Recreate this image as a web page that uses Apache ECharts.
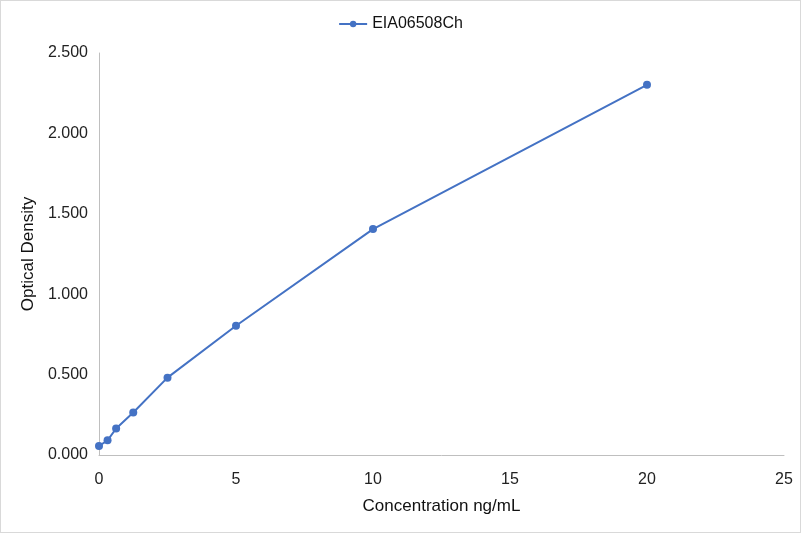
<!DOCTYPE html>
<html><head><meta charset="utf-8">
<script src="https://cdn.jsdelivr.net/npm/echarts@6/dist/echarts.min.js"></script>
<style>html,body{margin:0;padding:0;background:#fff}#c{width:801px;height:533px;box-sizing:border-box;border:1px solid #d9d9d9}</style>
</head><body><div id="c"></div>
<script>
const seriesName = 'EIA06508Ch';
const concentrations = [0, 0.3125, 0.625, 1.25, 2.5, 5, 10, 20];
const odValues = [0.056, 0.091, 0.165, 0.264, 0.481, 0.804, 1.405, 2.302];
const xTitle = 'Concentration ng/mL';
const yTitle = 'Optical Density';

const chart = echarts.init(document.getElementById('c'));
const font = 'Liberation Sans, Arial, sans-serif';
chart.setOption({
  animation: false,
  legend: {top: 10, left: 'center', itemWidth: 28, itemHeight: 8, itemGap: 10,
    textStyle: {fontFamily: font, fontSize: 16, color: '#111'}, data: [seriesName]},
  grid: {left: 98, right: 16, top: 52, bottom: 77},
  xAxis: {type: 'value', min: 0, max: 25, interval: 5,
    name: xTitle, nameLocation: 'middle', nameGap: 43,
    nameTextStyle: {fontFamily: font, fontSize: 17, color: '#111'},
    axisLine: {lineStyle: {color: '#bfbfbf'}}, axisTick: {show: false},
    axisLabel: {fontFamily: font, fontSize: 16, color: '#222', margin: 17},
    splitLine: {show: false}},
  yAxis: {type: 'value', min: 0, max: 2.5, interval: 0.5,
    name: yTitle, nameLocation: 'middle', nameGap: 57,
    nameTextStyle: {fontFamily: font, fontSize: 17, color: '#111'},
    axisLine: {show: true, lineStyle: {color: '#bfbfbf'}}, axisTick: {show: false},
    axisLabel: {fontFamily: font, fontSize: 16, color: '#222', margin: 11,
      formatter: v => v.toFixed(3)},
    splitLine: {show: false}},
  series: [{name: seriesName, type: 'line', symbol: 'circle', symbolSize: 8,
    data: concentrations.map((c, i) => [c, odValues[i]]),
    lineStyle: {color: '#4472c4', width: 2}, itemStyle: {color: '#4472c4'}}]
});
</script></body></html>
